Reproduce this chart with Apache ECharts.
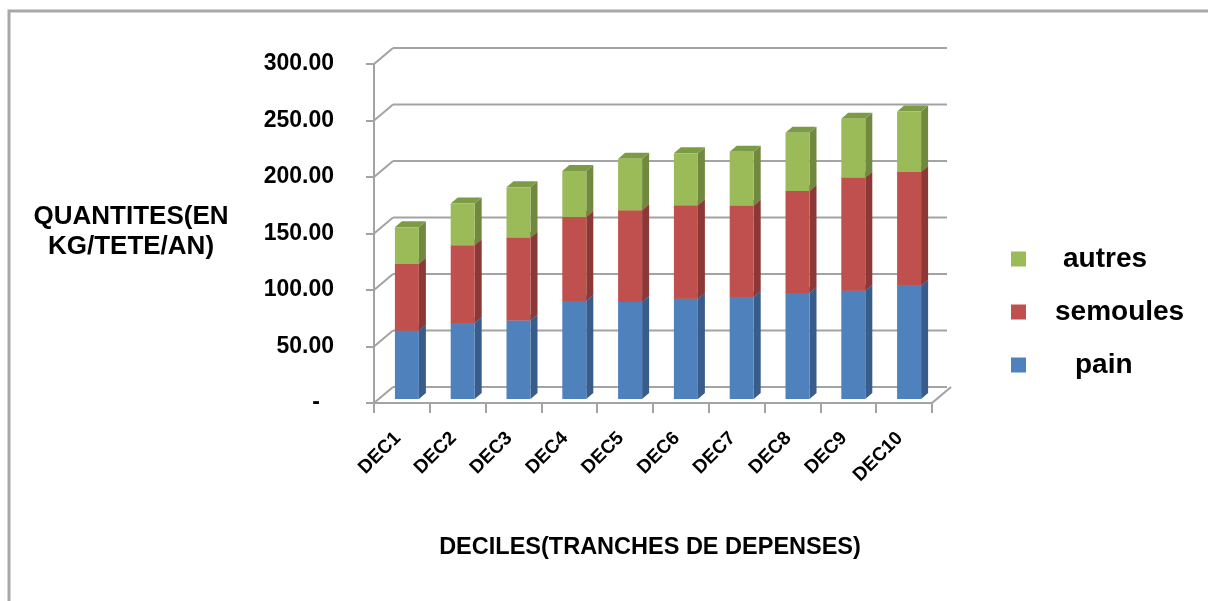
<!DOCTYPE html>
<html><head><meta charset="utf-8">
<script src="https://cdn.jsdelivr.net/npm/echarts@6/dist/echarts.min.js"></script>
<style>html,body{margin:0;padding:0;background:#fff}#c{width:1208px;height:601px}</style>
</head><body><div id="c"></div>
<script>
const categories = ['DEC1','DEC2','DEC3','DEC4','DEC5','DEC6','DEC7','DEC8','DEC9','DEC10'];
const pain     = [60.3, 67.2, 69.5, 86.7, 85.8, 88.7, 90.2, 93.7, 95.8, 100.3];
const semoules = [59.2, 68.8, 73.1, 74.3, 81.2, 82.8, 80.8, 90.3, 100.0, 100.5];
const autres   = [32.5, 37.0, 44.9, 40.7, 45.7, 45.9, 47.9, 51.7, 52.2, 53.6];
const yTicks = [0, 50, 100, 150, 200, 250, 300];
const legendOrder = ['autres', 'semoules', 'pain'];
const yTitle = 'QUANTITES(EN\nKG/TETE/AN)';
const xTitle = 'DECILES(TRANCHES DE DEPENSES)';

const FRONT = {pain:'#4F81BD', semoules:'#C0504D', autres:'#9BBB59'};
const SIDE  = {pain:'#385D8A', semoules:'#8C3836', autres:'#71893F'};
const TOPC  = {pain:'#5A86BE', semoules:'#A64442', autres:'#7C9B47'};
const GRAY = '#a3a3a3';
const FONT = '"Liberation Sans", Arial, sans-serif';

const OX = 5, OY = -4, DX = 7, DY = -6, BW = 0.43;
const WX = 19, WY = -16;

const zeros = categories.map(() => 0);
const base2 = pain.slice();
const base3 = pain.map((v, i) => v + semoules[i]);

function stackSeries(name, values, below, z) {
  return {
    type: 'custom', name, z,
    itemStyle: {color: FRONT[name]},
    data: values.map((v, i) => [i, below[i], below[i] + v]),
    encode: {x: 0, y: [1, 2]},
    renderItem(params, api) {
      const i = api.value(0), b = api.value(1), t = api.value(2);
      const p0 = api.coord([i, b]), p1 = api.coord([i, t]);
      const w = api.size([1, 0])[0] * BW;
      const x0 = p0[0] + OX - w / 2, x1 = x0 + w, yb = p0[1] + OY, yt = p1[1] + OY;
      return {type: 'group', children: [
        {type: 'polygon', shape: {points: [[x1, yt], [x1 + DX, yt + DY], [x1 + DX, yb + DY], [x1, yb]]}, style: {fill: SIDE[name]}},
        {type: 'polygon', shape: {points: [[x0, yt], [x0 + DX, yt + DY], [x1 + DX, yt + DY], [x1, yt]]}, style: {fill: TOPC[name]}},
        {type: 'rect', shape: {x: x0, y: yt, width: w, height: yb - yt}, style: {fill: FRONT[name]}}
      ]};
    }
  };
}

const frameSeries = {
  type: 'custom', name: 'frame', silent: true, z: 1,
  data: yTicks.map(v => [0, v]),
  encode: {x: 0, y: 1},
  renderItem(params, api) {
    const cs = params.coordSys;
    const v = api.value(1);
    const y = api.coord([0, v])[1];
    const xl = cs.x, xr = cs.x + cs.width;
    const ls = {stroke: GRAY, lineWidth: 2};
    const ch = [
      {type: 'line', shape: {x1: xl, y1: y, x2: xl + WX, y2: y + WY}, style: ls},
      {type: 'line', shape: {x1: xl + WX, y1: y + WY, x2: xr + WX - 4, y2: y + WY}, style: ls}
    ];
    if (v === 0) ch.push({type: 'line', shape: {x1: xr, y1: y, x2: xr + WX, y2: y + WY}, style: ls});
    return {type: 'group', children: ch};
  }
};

const chart = echarts.init(document.getElementById('c'), null, {renderer: 'canvas'});
chart.setOption({
  backgroundColor: '#fff',
  animation: false,
  grid: {left: 374, top: 64, width: 558, height: 339, containLabel: false},
  xAxis: {
    type: 'category', data: categories, boundaryGap: true,
    axisLine: {lineStyle: {color: GRAY, width: 2}},
    axisTick: {show: true, length: 10, lineStyle: {color: GRAY, width: 2}},
    axisLabel: {rotate: 45, margin: 28, padding: [0, 6, 0, 0], color: '#000', fontFamily: FONT, fontWeight: 'bold', fontSize: 19, interval: 0},
    splitLine: {show: false}
  },
  yAxis: {
    type: 'value', min: 0, max: 300, interval: 50,
    axisLine: {show: true, lineStyle: {color: GRAY, width: 2}},
    axisTick: {show: true, length: 8, lineStyle: {color: GRAY, width: 2}},
    axisLabel: {
      margin: 40, color: '#000', fontFamily: FONT, fontWeight: 'bold', fontSize: 23,
      formatter: v => v === 0 ? '{z|-}' : v.toFixed(2),
      rich: {z: {padding: [0, 14, 0, 0], color: '#000', fontFamily: FONT, fontWeight: 'bold', fontSize: 23}}
    },
    splitLine: {show: false}
  },
  legend: {
    orient: 'vertical', left: 1006, top: 239,
    data: legendOrder, icon: 'rect', itemWidth: 15, itemHeight: 15, itemGap: 23,
    selectedMode: false,
    formatter: n => '{' + n.charAt(0) + '|' + n + '}',
    textStyle: {
      color: '#000', fontFamily: FONT, fontWeight: 'bold', fontSize: 28, lineHeight: 30,
      rich: {
        a: {padding: [0, 0, 0, 32], color: '#000', fontFamily: FONT, fontWeight: 'bold', fontSize: 28, lineHeight: 30},
        s: {padding: [0, 0, 0, 24], color: '#000', fontFamily: FONT, fontWeight: 'bold', fontSize: 28, lineHeight: 30},
        p: {padding: [0, 0, 0, 44], color: '#000', fontFamily: FONT, fontWeight: 'bold', fontSize: 28, lineHeight: 30}
      }
    }
  },
  graphic: [
    {type: 'rect', shape: {x: 9, y: 11, width: 1400, height: 800}, style: {fill: 'none', stroke: '#a8a8a8', lineWidth: 3}, silent: true},
    {type: 'text', x: 131, y: 232, style: {text: yTitle, fill: '#000', font: 'bold 26px ' + FONT, textAlign: 'center', textVerticalAlign: 'middle', lineHeight: 30}},
    {type: 'text', x: 650, y: 548, style: {text: xTitle, fill: '#000', font: 'bold 23.5px ' + FONT, textAlign: 'center', textVerticalAlign: 'middle'}}
  ],
  series: [
    frameSeries,
    stackSeries('pain', pain, zeros, 3),
    stackSeries('semoules', semoules, base2, 4),
    stackSeries('autres', autres, base3, 5)
  ]
});
</script></body></html>
